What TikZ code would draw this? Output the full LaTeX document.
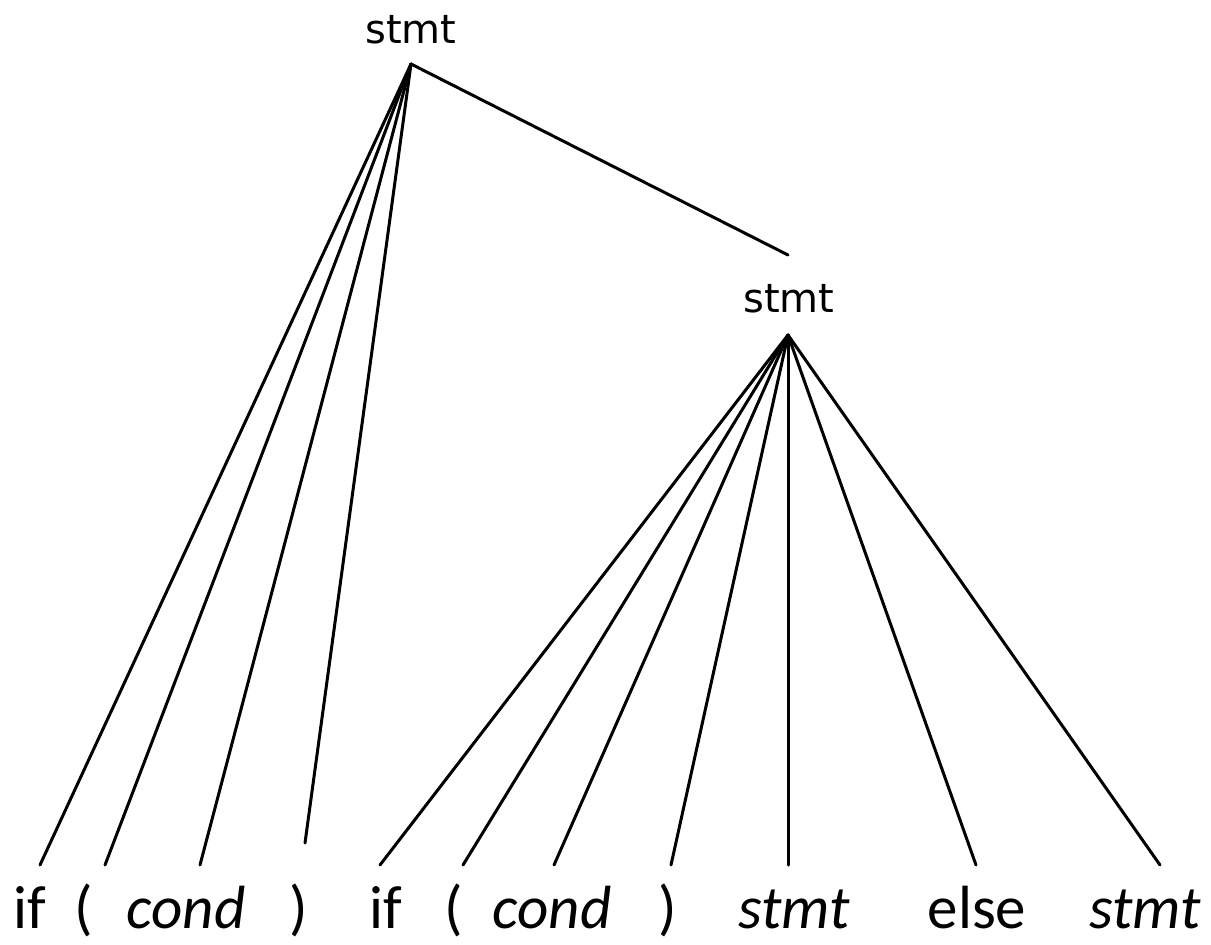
\documentclass[tikz,border=0pt]{standalone}
\usepackage{fontspec}
\setmainfont{Carlito}
\newfontfamily\topfont{DejaVu Sans}
\begin{document}
\begin{tikzpicture}[x=1pt,y=-1pt,
  edge/.style={line width=3pt,line cap=round},
  inner/.style={font=\topfont\fontsize{40}{48}\selectfont,anchor=base,inner sep=0pt},
  leaf/.style={font=\fontsize{61}{72}\selectfont,anchor=base,inner sep=0pt}]
\useasboundingbox (0,0) rectangle (1211,945);
% internal nodes
\node[inner] (s1) at (411,43) {stmt};
\node[inner] (s2) at (789,312) {stmt};
\coordinate (p1) at (411,64);
\coordinate (p2) at (788,335);
\coordinate (q2) at (788,255);
% leaves
\node[leaf] (l1) at (30,928) {if};
\node[leaf] (l2) at (84,928) {(};
\node[leaf] (l3) at (186,928) {\itshape cond};
\node[leaf] (l4) at (299,928) {)};
\node[leaf] (l5) at (386,928) {if};
\node[leaf] (l6) at (454,928) {(};
\node[leaf] (l7) at (552,928) {\itshape cond};
\node[leaf] (l8) at (668,928) {)};
\node[leaf] (l9) at (794,928) {\itshape stmt};
\node[leaf] (l10) at (977,928) {else};
\node[leaf] (l11) at (1145,928) {\itshape stmt};
% line ends above leaves
\coordinate (e1) at (40,865);
\coordinate (e2) at (105,865);
\coordinate (e3) at (200,865);
\coordinate (e4) at (305,843);
\coordinate (e5) at (380,865);
\coordinate (e6) at (463,865);
\coordinate (e7) at (554,865);
\coordinate (e8) at (671,865);
\coordinate (e9) at (788,865);
\coordinate (e10) at (976,865);
\coordinate (e11) at (1160,865);
% edges
\foreach \e in {e1,e2,e3,e4,q2} \draw[edge] (p1) -- (\e);
\foreach \e in {e5,e6,e7,e8,e9,e10,e11} \draw[edge] (p2) -- (\e);
\end{tikzpicture}
\end{document}
